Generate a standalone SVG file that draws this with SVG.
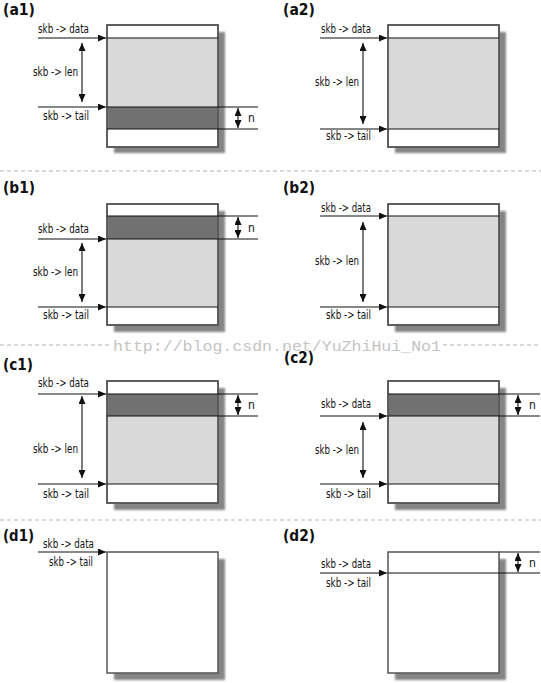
<svg xmlns="http://www.w3.org/2000/svg" width="541" height="683" viewBox="0 0 541 683">
<style>
.bg{fill:#fff}
.box{fill:#fff;stroke:#555;stroke-width:1.5}
.shadow{fill:#858585;filter:url(#blur)}
.light{fill:#d9d9d9}
.dark{fill:#717171}
.ln{stroke:#111;stroke-width:1.1;fill:none}
.arr{stroke:#111;stroke-width:1.1;fill:none;marker-end:url(#ah)}
.dbl{stroke:#111;stroke-width:1.1;fill:none;marker-end:url(#ah);marker-start:url(#ah)}
.sep{stroke:#b3b3b3;stroke-width:1;stroke-dasharray:4,3}
.t{font-family:"Liberation Sans Narrow","DejaVu Sans Condensed","Liberation Sans",sans-serif;font-size:12px;fill:#111}
.p{font-family:"Liberation Sans Narrow","DejaVu Sans Condensed","Liberation Sans",sans-serif;font-size:15px;font-weight:bold;fill:#111}
.wm{font-family:"Liberation Mono","DejaVu Sans Mono",monospace;font-size:15px;fill:#c4c4c4}
</style>
<defs>
<filter id="blur" x="-10%" y="-10%" width="120%" height="120%"><feGaussianBlur stdDeviation="1.2"/></filter>
<marker id="ah" viewBox="0 0 8 7" refX="8" refY="3.5" markerWidth="8" markerHeight="7" markerUnits="userSpaceOnUse" orient="auto-start-reverse"><path d="M0,0 L8,3.5 L0,7 z" fill="#111"/></marker>
</defs>
<rect class="bg" x="0" y="0" width="541" height="683"/>

<g id="separators">
<line class="sep" x1="0" y1="171" x2="541" y2="171"/>
<line class="sep" x1="0" y1="345" x2="110" y2="345"/>
<line class="sep" x1="443" y1="345" x2="541" y2="345"/>
<line class="sep" x1="0" y1="520" x2="541" y2="520"/>
</g>
<text class="wm" x="113" y="351" textLength="328" lengthAdjust="spacingAndGlyphs">http://blog.csdn.net/YuZhiHui_No1</text>

<!-- a1 -->
<g id="a1">
<text class="p" x="3" y="15" textLength="32" lengthAdjust="spacingAndGlyphs">(a1)</text>
<g id="a1-buffer">
<rect class="shadow" x="114" y="32" width="111" height="121"/>
<rect class="box" x="107" y="25" width="111" height="122"/>
<rect class="light" x="107.8" y="38" width="109.5" height="69"/>
<rect class="dark" x="107.8" y="107" width="109.5" height="22"/>
<rect x="107" y="25" width="111" height="122" fill="none" stroke="#555" stroke-width="1.5"/>
</g>
<text class="t" x="38" y="33" textLength="51" lengthAdjust="spacingAndGlyphs">skb -&gt; data</text>
<text class="t" x="33" y="76" textLength="45" lengthAdjust="spacingAndGlyphs">skb -&gt; len</text>
<text class="t" x="43" y="120" textLength="46" lengthAdjust="spacingAndGlyphs">skb -&gt; tail</text>
<text class="t" x="248" y="122">n</text>
<g id="a1-connectors">
<line class="ln" x1="107" y1="38" x2="218" y2="38"/>
<line class="ln" x1="107" y1="107" x2="258" y2="107"/>
<line class="ln" x1="107" y1="129" x2="258" y2="129"/>
<line class="arr" x1="38" y1="38" x2="106" y2="38"/>
<line class="arr" x1="38" y1="107" x2="106" y2="107"/>
<line class="dbl" x1="82" y1="43" x2="82" y2="102"/>
<line class="dbl" x1="238" y1="108" x2="238" y2="128"/>
</g>
</g>

<!-- a2 -->
<g id="a2">
<text class="p" x="283" y="15" textLength="32" lengthAdjust="spacingAndGlyphs">(a2)</text>
<g id="a2-buffer">
<rect class="shadow" x="395" y="32" width="111" height="121"/>
<rect class="box" x="388" y="25" width="111" height="122"/>
<rect class="light" x="388.8" y="38" width="109.5" height="91"/>
<rect x="388" y="25" width="111" height="122" fill="none" stroke="#555" stroke-width="1.5"/>
</g>
<text class="t" x="321" y="33" textLength="50" lengthAdjust="spacingAndGlyphs">skb -&gt; data</text>
<text class="t" x="315" y="86" textLength="44" lengthAdjust="spacingAndGlyphs">skb -&gt; len</text>
<text class="t" x="326" y="140" textLength="45" lengthAdjust="spacingAndGlyphs">skb -&gt; tail</text>
<g id="a2-connectors">
<line class="ln" x1="388" y1="38" x2="499" y2="38"/>
<line class="ln" x1="388" y1="129" x2="499" y2="129"/>
<line class="arr" x1="320" y1="38" x2="387" y2="38"/>
<line class="arr" x1="320" y1="129" x2="387" y2="129"/>
<line class="dbl" x1="363" y1="43" x2="363" y2="124"/>
</g>
</g>

<!-- b1 -->
<g id="b1">
<text class="p" x="3" y="193" textLength="32" lengthAdjust="spacingAndGlyphs">(b1)</text>
<g id="b1-buffer">
<rect class="shadow" x="114" y="211" width="111" height="121"/>
<rect class="box" x="107" y="204" width="111" height="121"/>
<rect class="dark" x="107.8" y="216" width="109.5" height="23"/>
<rect class="light" x="107.8" y="239" width="109.5" height="68"/>
<rect x="107" y="204" width="111" height="121" fill="none" stroke="#555" stroke-width="1.5"/>
</g>
<text class="t" x="38" y="233" textLength="51" lengthAdjust="spacingAndGlyphs">skb -&gt; data</text>
<text class="t" x="33" y="276" textLength="45" lengthAdjust="spacingAndGlyphs">skb -&gt; len</text>
<text class="t" x="43" y="319" textLength="46" lengthAdjust="spacingAndGlyphs">skb -&gt; tail</text>
<text class="t" x="248" y="232">n</text>
<g id="b1-connectors">
<line class="ln" x1="107" y1="216" x2="258" y2="216"/>
<line class="ln" x1="107" y1="239" x2="258" y2="239"/>
<line class="ln" x1="107" y1="307" x2="218" y2="307"/>
<line class="arr" x1="38" y1="239" x2="106" y2="239"/>
<line class="arr" x1="38" y1="307" x2="106" y2="307"/>
<line class="dbl" x1="82" y1="243" x2="82" y2="302"/>
<line class="dbl" x1="238" y1="217" x2="238" y2="238"/>
</g>
</g>

<!-- b2 -->
<g id="b2">
<text class="p" x="283" y="193" textLength="32" lengthAdjust="spacingAndGlyphs">(b2)</text>
<g id="b2-buffer">
<rect class="shadow" x="395" y="211" width="111" height="121"/>
<rect class="box" x="388" y="204" width="111" height="121"/>
<rect class="light" x="388.8" y="216" width="109.5" height="91"/>
<rect x="388" y="204" width="111" height="121" fill="none" stroke="#555" stroke-width="1.5"/>
</g>
<text class="t" x="321" y="212" textLength="50" lengthAdjust="spacingAndGlyphs">skb -&gt; data</text>
<text class="t" x="315" y="265" textLength="44" lengthAdjust="spacingAndGlyphs">skb -&gt; len</text>
<text class="t" x="326" y="319" textLength="45" lengthAdjust="spacingAndGlyphs">skb -&gt; tail</text>
<g id="b2-connectors">
<line class="ln" x1="388" y1="216" x2="499" y2="216"/>
<line class="ln" x1="388" y1="307" x2="499" y2="307"/>
<line class="arr" x1="320" y1="216" x2="387" y2="216"/>
<line class="arr" x1="320" y1="307" x2="387" y2="307"/>
<line class="dbl" x1="363" y1="222" x2="363" y2="302"/>
</g>
</g>

<!-- c1 -->
<g id="c1">
<text class="p" x="3" y="370" textLength="30" lengthAdjust="spacingAndGlyphs">(c1)</text>
<g id="c1-buffer">
<rect class="shadow" x="114" y="388" width="111" height="122"/>
<rect class="box" x="107" y="381" width="111" height="122"/>
<rect class="dark" x="107.8" y="394" width="109.5" height="22"/>
<rect class="light" x="107.8" y="416" width="109.5" height="68"/>
<rect x="107" y="381" width="111" height="122" fill="none" stroke="#555" stroke-width="1.5"/>
</g>
<text class="t" x="38" y="387" textLength="51" lengthAdjust="spacingAndGlyphs">skb -&gt; data</text>
<text class="t" x="33" y="453" textLength="45" lengthAdjust="spacingAndGlyphs">skb -&gt; len</text>
<text class="t" x="43" y="498" textLength="46" lengthAdjust="spacingAndGlyphs">skb -&gt; tail</text>
<text class="t" x="248" y="409">n</text>
<g id="c1-connectors">
<line class="ln" x1="107" y1="394" x2="258" y2="394"/>
<line class="ln" x1="107" y1="416" x2="258" y2="416"/>
<line class="ln" x1="107" y1="484" x2="218" y2="484"/>
<line class="arr" x1="38" y1="394" x2="106" y2="394"/>
<line class="arr" x1="38" y1="484" x2="106" y2="484"/>
<line class="dbl" x1="82" y1="396" x2="82" y2="478"/>
<line class="dbl" x1="238" y1="395" x2="238" y2="415"/>
</g>
</g>

<!-- c2 -->
<g id="c2">
<text class="p" x="284" y="363" textLength="30" lengthAdjust="spacingAndGlyphs">(c2)</text>
<g id="c2-buffer">
<rect class="shadow" x="395" y="388" width="111" height="122"/>
<rect class="box" x="388" y="381" width="111" height="122"/>
<rect class="dark" x="388.8" y="394" width="109.5" height="22"/>
<rect class="light" x="388.8" y="416" width="109.5" height="68"/>
<rect x="388" y="381" width="111" height="122" fill="none" stroke="#555" stroke-width="1.5"/>
</g>
<text class="t" x="321" y="408" textLength="50" lengthAdjust="spacingAndGlyphs">skb -&gt; data</text>
<text class="t" x="315" y="454" textLength="44" lengthAdjust="spacingAndGlyphs">skb -&gt; len</text>
<text class="t" x="326" y="498" textLength="45" lengthAdjust="spacingAndGlyphs">skb -&gt; tail</text>
<text class="t" x="529" y="409">n</text>
<g id="c2-connectors">
<line class="ln" x1="388" y1="394" x2="540" y2="394"/>
<line class="ln" x1="388" y1="416" x2="540" y2="416"/>
<line class="ln" x1="388" y1="484" x2="499" y2="484"/>
<line class="arr" x1="320" y1="416" x2="387" y2="416"/>
<line class="arr" x1="320" y1="484" x2="387" y2="484"/>
<line class="dbl" x1="363" y1="422" x2="363" y2="478"/>
<line class="dbl" x1="518" y1="395" x2="518" y2="415"/>
</g>
</g>

<!-- d1 -->
<g id="d1">
<text class="p" x="3" y="541" textLength="31" lengthAdjust="spacingAndGlyphs">(d1)</text>
<g id="d1-buffer">
<rect class="shadow" x="114" y="559" width="111" height="121"/>
<rect class="box" x="107" y="552" width="111" height="121"/>
</g>
<text class="t" x="43" y="548" textLength="51" lengthAdjust="spacingAndGlyphs">skb -&gt; data</text>
<text class="t" x="49" y="566" textLength="44" lengthAdjust="spacingAndGlyphs">skb -&gt; tail</text>
<g id="d1-connectors">
<line class="arr" x1="38" y1="552" x2="106" y2="552"/>
</g>
</g>

<!-- d2 -->
<g id="d2">
<text class="p" x="283" y="541" textLength="32" lengthAdjust="spacingAndGlyphs">(d2)</text>
<g id="d2-buffer">
<rect class="shadow" x="395" y="559" width="111" height="121"/>
<rect class="box" x="388" y="552" width="111" height="121"/>
</g>
<text class="t" x="321" y="568" textLength="50" lengthAdjust="spacingAndGlyphs">skb -&gt; data</text>
<text class="t" x="326" y="587" textLength="45" lengthAdjust="spacingAndGlyphs">skb -&gt; tail</text>
<text class="t" x="529" y="567">n</text>
<g id="d2-connectors">
<line class="ln" x1="499" y1="552" x2="540" y2="552"/>
<line class="ln" x1="388" y1="573" x2="540" y2="573"/>
<line class="arr" x1="320" y1="573" x2="387" y2="573"/>
<line class="dbl" x1="518" y1="553" x2="518" y2="572"/>
</g>
</g>
</svg>
